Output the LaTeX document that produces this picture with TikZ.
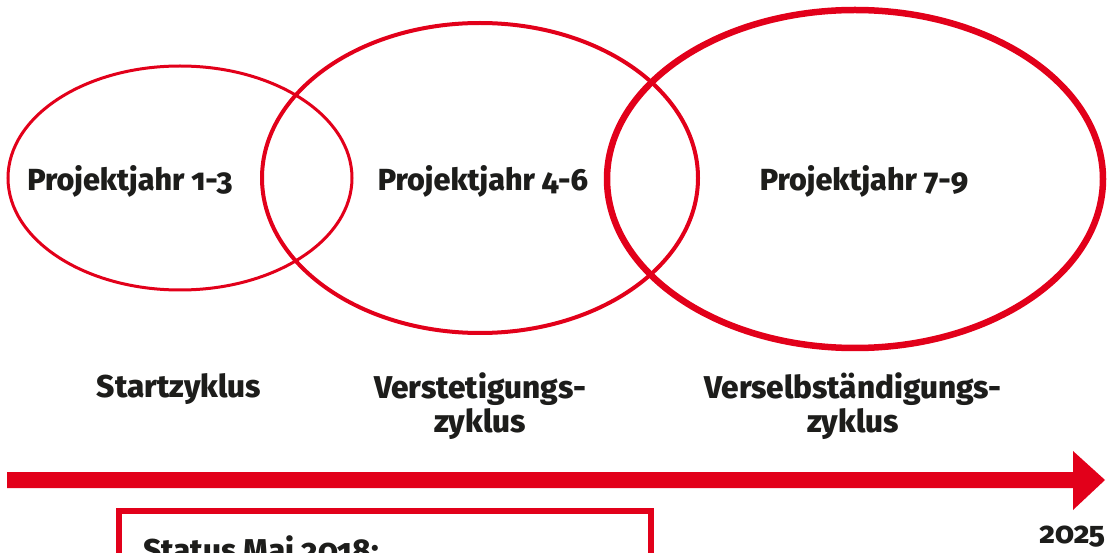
\documentclass[tikz,border=0pt]{standalone}
\usepackage{fontspec}
\setmainfont{Fira Sans}[Numbers=OldStyle,BoldFont={Fira Sans ExtraBold}]
\usetikzlibrary{shapes.geometric}
\definecolor{rred}{HTML}{E2001A}
\definecolor{ink}{HTML}{1D1D1B}
\begin{document}
\begin{tikzpicture}[x=1pt,y=-1pt,
  ring/.style={draw=rred,ellipse,inner sep=0pt},
  lbl/.style={text=ink,font=\fontsize{30.5}{34}\selectfont\bfseries,inner sep=0pt,anchor=base},
  cyc/.style={text=ink,font=\fontsize{31.5}{34}\selectfont\bfseries,inner sep=0pt,align=center,anchor=base}]
\useasboundingbox (0,0) rectangle (1112,553);
\clip (0,0) rectangle (1112,553);
\node[ring,line width=3pt,minimum width=344pt,minimum height=224pt] (e1) at (180,178) {};
\node[ring,line width=4pt,minimum width=436pt,minimum height=310pt] (e2) at (480,178) {};
\node[ring,line width=6.5pt,minimum width=496pt,minimum height=338pt] (e3) at (855,179) {};
\node[lbl] (p1) at (130,191) {Projektjahr 1-3};
\node[lbl] (p2) at (483,191) {Projektjahr 4-6};
\node[lbl] (p3) at (864,191) {Projektjahr 7-9};
\node[cyc] (c1) at (179,398) {Startzyklus};
\node[cyc] (c2) at (480,432) {Verstetigungs-\\zyklus};
\node[cyc] (c3) at (853,432) {Verselbständigungs-\\zyklus};
\fill[rred] (7,472) -- (1073,472) -- (1073,451) -- (1105,480) -- (1073,510) -- (1073,488) -- (7,488) -- cycle;
\node[text=ink,font=\fontsize{30}{32}\selectfont\bfseries,inner sep=0pt,anchor=base east] (y) at (1105,543) {2025};
\draw[rred,line width=6pt] (118.5,600) -- (118.5,511) -- (651,511) -- (651,600);
\node[text=ink,font=\fontsize{31.5}{34}\selectfont\bfseries,inner sep=0pt,anchor=base west] (st) at (143,561) {Status Mai 2018:};
\end{tikzpicture}
\end{document}
